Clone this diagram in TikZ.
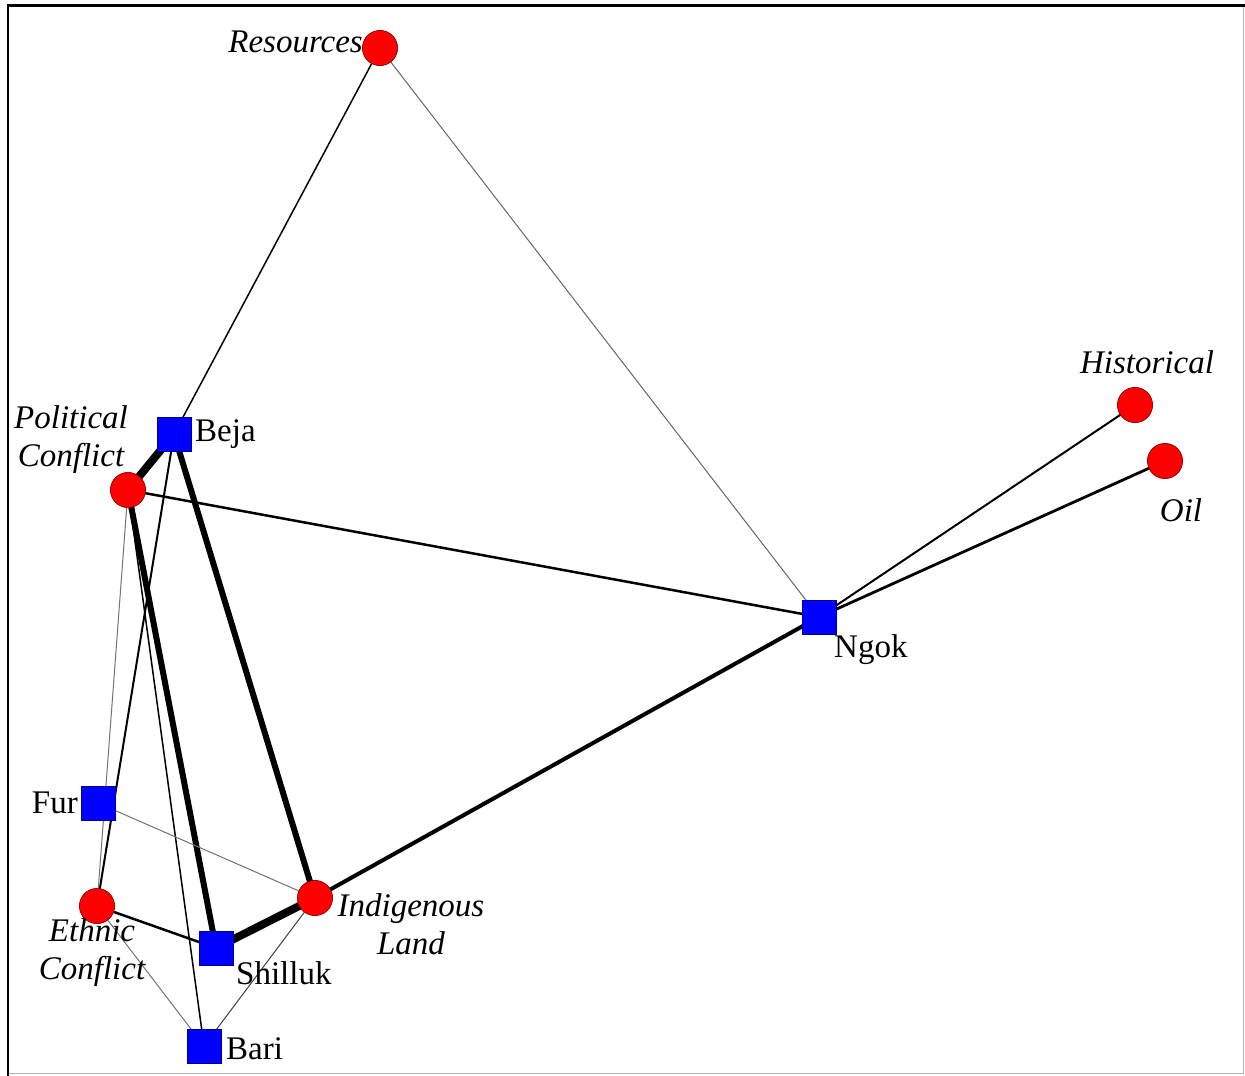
\documentclass[tikz,border=0pt]{standalone}
\usepackage{fontspec}
\setmainfont{Liberation Serif}
\begin{document}
\begin{tikzpicture}[x=1pt,y=-1pt,
  actor/.style={rectangle,minimum size=34pt,inner sep=0pt,fill={rgb,255:red,0;green,0;blue,255},draw={rgb,255:red,0;green,0;blue,150},line width=0.6pt},
  issue/.style={circle,minimum size=35pt,inner sep=0pt,fill={rgb,255:red,255;green,0;blue,0},draw={rgb,255:red,150;green,0;blue,0},line width=0.6pt},
  lbl/.style={font=\fontsize{33}{38}\selectfont,inner sep=0pt,align=center},
  ilbl/.style={lbl,font=\fontsize{33}{38}\selectfont\itshape},
  tie/.style={line width=#1,black},
  faint/.style={line width=1pt,black!55},
]
\useasboundingbox (0,0) rectangle (1245,1076);
\fill[white] (0,0) rectangle (1245,1076);
% frame
\draw[black!30,line width=1pt] (1243,5) -- (1243,1073) -- (8,1073);
\draw[black,line width=3pt] (8,5) -- (1245,5);
\draw[black,line width=2.5pt] (8,4) -- (8,1076);

% nodes
\node[issue] (res) at (380,48) {};
\node[actor] (beja) at (174,434) {};
\node[issue] (pol) at (128,490) {};
\node[actor] (ngok) at (819,617) {};
\node[issue] (hist) at (1135,405) {};
\node[issue] (oil) at (1165,461) {};
\node[actor] (fur) at (98,803) {};
\node[issue] (eth) at (97,906) {};
\node[issue] (ind) at (315,898) {};
\node[actor] (shil) at (216,948) {};
\node[actor] (bari) at (204,1046) {};

% ties
\draw[faint,black!60] (res.center) -- (ngok.center);
\draw[tie=1.5pt] (res.center) -- (beja.center);
\draw[tie=8pt] (beja.center) -- (pol.center);
\draw[tie=6pt] (beja.center) -- (ind.center);
\draw[tie=2pt] (beja.center) -- (eth.center);
\draw[tie=6pt] (pol.center) -- (shil.center);
\draw[tie=1.5pt] (pol.center) -- (bari.center);
\draw[faint] (pol.center) -- (eth.center);
\draw[tie=2.5pt] (pol.center) -- (ngok.center);
\draw[tie=2pt] (ngok.center) -- (hist.center);
\draw[tie=2.8pt] (ngok.center) -- (oil.center);
\draw[tie=4pt] (ngok.center) -- (ind.center);
\draw[tie=8pt] (ind.center) -- (shil.center);
\draw[faint] (fur.center) -- (ind.center);
\draw[tie=2.5pt] (eth.center) -- (shil.center);
\draw[faint] (eth.center) -- (bari.center);
\draw[faint,black!75] (ind.center) -- (bari.center);

% node shapes drawn again above the ties
\foreach \n/\s in {res/issue,pol/issue,hist/issue,oil/issue,eth/issue,ind/issue}
  \node[\s] at (\n) {};
\foreach \n/\s in {beja/actor,ngok/actor,fur/actor,shil/actor,bari/actor}
  \node[\s] at (\n) {};

% labels
\node[ilbl,anchor=east] (lres) at (363,42) {Resources};
\node[lbl,anchor=west] (lbeja) at (195,434) {Beja};
\node[ilbl] (lpol) at (71,440) {Political\\Conflict};
\node[ilbl] (lhist) at (1147,362) {Historical};
\node[ilbl] (loil) at (1181,510) {Oil};
\node[lbl,anchor=west] (lngok) at (834,650) {Ngok};
\node[lbl,anchor=east] (lfur) at (78,803) {Fur};
\node[ilbl] (leth) at (92,953) {Ethnic\\Conflict};
\node[ilbl] (lind) at (411,924) {Indigenous\\Land};
\node[lbl,anchor=west] (lshil) at (236,973) {Shilluk};
\node[lbl,anchor=west] (lbari) at (226,1049) {Bari};
\end{tikzpicture}
\end{document}
